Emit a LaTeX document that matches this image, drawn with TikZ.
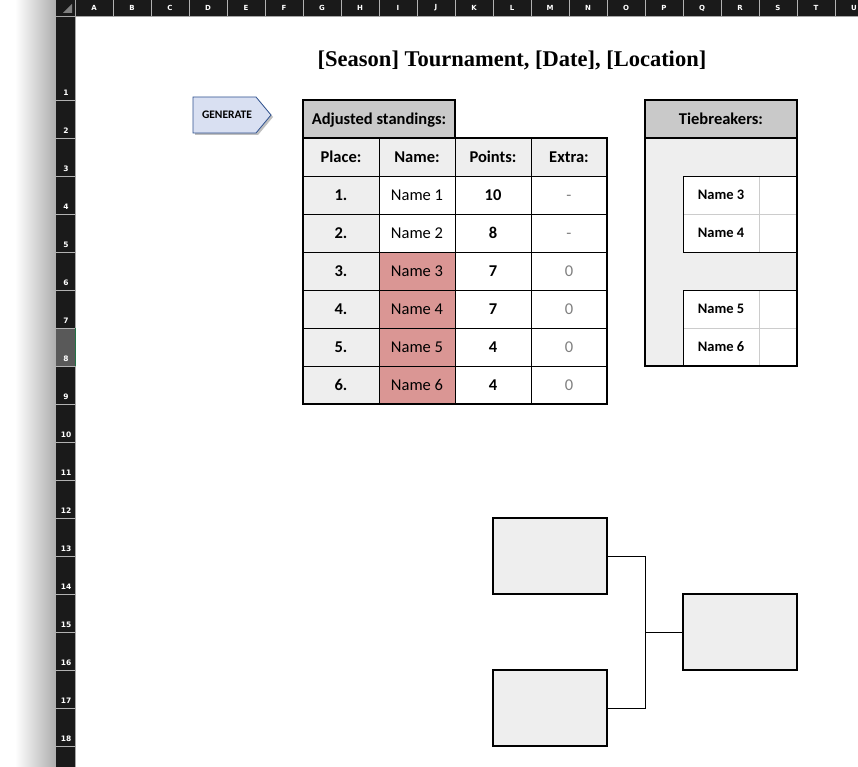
\documentclass[tikz,border=0pt]{standalone}
\usepackage{fontspec}
\setmainfont{Carlito}
\newfontfamily\titlefont{Liberation Serif}
\newfontfamily\headfont{DejaVu Sans}

\definecolor{bargray}{RGB}{26,26,26}
\definecolor{hdrgray}{RGB}{201,201,201}
\definecolor{cellgray}{RGB}{238,238,238}
\definecolor{tiepink}{RGB}{218,150,148}
\definecolor{btnblue}{RGB}{217,224,242}
\definecolor{btnedge}{RGB}{47,82,143}
\definecolor{selgreen}{RGB}{33,115,70}

\tikzset{
  txt/.style={inner sep=0,text height=10.6pt,text depth=0pt,font=\fontsize{16.5}{18}\selectfont},
  btxt/.style={txt,font=\fontsize{16.5}{18}\selectfont\bfseries},
  tietxt/.style={inner sep=0,text height=9.3pt,text depth=0pt,font=\fontsize{14.5}{16}\selectfont\bfseries},
  sheethead/.style={inner sep=0,text=white,font=\headfont\bfseries\fontsize{7}{8}\selectfont},
  slot/.style={draw,line width=2.3,fill=cellgray,minimum width=114,minimum height=76,inner sep=0}
}

\begin{document}
\begin{tikzpicture}[x=1pt,y=-1pt,line width=0.8]

\useasboundingbox (0,0) rectangle (858,767);
\fill[white] (0,0) rectangle (858,767);
\shade[left color=white,right color=black!32] (15,0) rectangle (56,767);

% sheet frame
\fill[bargray] (56,0) rectangle (858,16);
\fill[bargray] (56,16) rectangle (75,767);
\fill[black!65] (56,328) rectangle (75,366);
\fill[gray] (63,13) -- (72,13) -- (72,4) -- cycle;
\draw[gray!70,line width=0.6] (56,16) -- (858,16);
\draw[gray!70,line width=0.6] (75,0) -- (75,767);
\draw[selgreen,line width=1.6] (75.5,328) -- (75.5,366);

\foreach \c [count=\i] in {A,B,C,D,E,F,G,H,I,J,K,L,M,N,O,P,Q,R,S,T,U} {
  \draw[gray!60,line width=0.5] (75+38*\i,0) -- (75+38*\i,16);
  \node[sheethead] (col\c) at (56+38*\i,8) {\c};
}
\foreach \r in {1,...,18} {
  \draw[gray!60,line width=0.5] (56,62+38*\r) -- (75,62+38*\r);
  \node[sheethead,font=\headfont\bfseries\fontsize{7.5}{8}\selectfont] (row\r) at (66,55+38*\r) {\r};
}

\node[inner sep=0,font=\titlefont\bfseries\fontsize{22.5}{24}\selectfont] (title) at (512,60) {[Season] Tournament, [Date], [Location]};

% button
\fill[black!25,shift={(2,2)}] (193,97) -- (256,97) -- (271,115) -- (256,133) -- (193,133) -- cycle;
\draw[btnedge,fill=btnblue] (193,97) -- (256,97) -- (271,115) -- (256,133) -- (193,133) -- cycle;
\node[inner sep=0,font=\fontsize{11.5}{12}\selectfont\bfseries] (generate) at (227,115) {GENERATE};

% standings
\fill[hdrgray] (303,100) rectangle (455,138);
\fill[cellgray] (303,138) rectangle (607,176);
\fill[cellgray] (303,176) rectangle (379,404);
\fill[tiepink] (379,252) rectangle (455,404);
\foreach \x in {379,455,531} \draw (\x,138) -- (\x,404);
\foreach \y in {176,214,...,366} \draw (303,\y) -- (607,\y);
\draw[line width=2.3] (303,100) rectangle (455,138);
\draw[line width=2.3] (303,138) rectangle (607,404);

\node[btxt] (adjhead) at (379,119) {Adjusted standings:};
\foreach \t/\x [count=\i] in {Place:/341,Name:/417,Points:/493,Extra:/569}
  \node[btxt] (colhd\i) at (\x,157) {\t};
\foreach \p/\n/\s/\e [count=\i] in {1./Name 1/10/-,2./Name 2/8/-,3./Name 3/7/0,4./Name 4/7/0,5./Name 5/4/0,6./Name 6/4/0} {
  \node[btxt] (place\i) at (341,157+38*\i) {\p};
  \node[txt] (name\i) at (417,157+38*\i) {\n};
  \node[btxt] (pts\i) at (493,157+38*\i) {\s};
  \node[txt,text=black!50] (extra\i) at (569,157+38*\i) {\e};
}

% tiebreakers
\fill[hdrgray] (645,100) rectangle (797,138);
\fill[cellgray] (645,138) rectangle (797,366);
\foreach \t in {176,290} {
  \fill[white] (683,\t) rectangle (797,\t+76);
  \draw[black!20] (759,\t) -- (759,\t+76);
  \draw[black!20] (683,\t+38) -- (797,\t+38);
  \draw (797,\t) -- (683,\t) -- (683,\t+76) -- (797,\t+76);
}
\draw[line width=2.3] (645,100) rectangle (797,138);
\draw[line width=2.3] (645,138) rectangle (797,366);

\node[btxt] (tiehead) at (721,119) {Tiebreakers:};
\foreach \n/\y in {3/195,4/233,5/309,6/347}
  \node[tietxt] (tie\n) at (721,\y) {Name \n};

% bracket
\node[slot] (semi1) at (550,556) {};
\node[slot] (semi2) at (550,708) {};
\node[slot] (final) at (740,632) {};
\coordinate (join) at (645,632);
\draw (semi1.east) -| (join) |- (semi2.east);
\draw (join) -- (final.west);

\end{tikzpicture}
\end{document}
